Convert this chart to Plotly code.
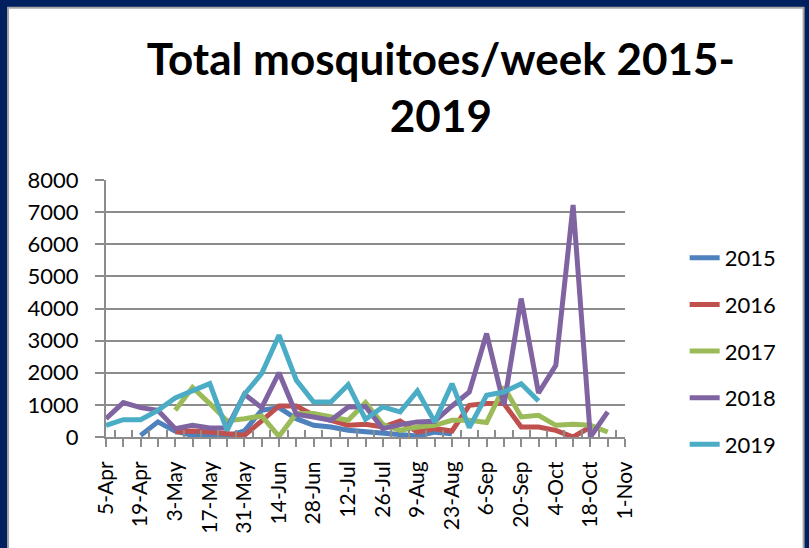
import plotly.graph_objects as go

weeks = ["5-Apr","12-Apr","19-Apr","26-Apr","3-May","10-May","17-May","24-May","31-May",
         "7-Jun","14-Jun","21-Jun","28-Jun","5-Jul","12-Jul","19-Jul","26-Jul","2-Aug",
         "9-Aug","16-Aug","23-Aug","30-Aug","6-Sep","13-Sep","20-Sep","27-Sep","4-Oct",
         "11-Oct","18-Oct","25-Oct","1-Nov"]

y2015 = [None, None, 50, 470, 180, 50, 70, 30, 190, 830, 915, 570, 364, 310, 208, 156,
         100, 80, 30, 150, 100, None, None, None, None, None, None, None, None, None, None]
y2016 = [None, None, None, None, 156, 187, 156, 104, 52, 500, 967, 967, 676, 520, 364, 395,
         310, 500, 156, 260, 187, 987, 1040, 1040, 310, 310, 208, 0, 310, None, None]
y2017 = [None, None, None, None, 830, 1540, 1040, 500, 570, 655, 20, 730, 730, 620, 520, 1070,
         395, 208, 310, 364, 520, 520, 450, 1560, 625, 675, 364, 395, 364, 156, None]
y2018 = [572, 1070, 915, 830, 260, 364, 280, 280, 1330, 915, 2000, 707, 620, 520, 935, 950,
         260, 385, 470, 490, 967, 1400, 3220, 990, 4310, 1370, 2230, 7220, 0, 780, None]
y2019 = [364, 540, 540, 830, 1217, 1425, 1660, 208, 1330, 1976, 3170, 1770, 1090, 1090, 1630, 550,
         935, 780, 1434, 470, 1660, 290, 1300, 1400, 1660, 1120, None, None, None, None, None]

series = [("2015", y2015, "#4F81BD"), ("2016", y2016, "#C0504D"), ("2017", y2017, "#9BBB59"),
          ("2018", y2018, "#8064A2"), ("2019", y2019, "#4BACC6")]

idx = list(range(len(weeks)))
labels = [w if i % 2 == 0 else "" for i, w in enumerate(weeks)]

fig = go.Figure()
for name, ys, col in series:
    fig.add_trace(go.Scatter(x=idx, y=ys, mode="lines", name=name, legendgroup=name,
                             line=dict(color=col, width=5)))

W, H = 809, 548
L, R, T, B = 106, 625.3, 180, 436.7
pw, ph = R - L, B - T
def px(x): return (x - L) / pw
def py(y): return (B - y) / ph

grid = "#8C8C8C"
fig.update_layout(
    width=W, height=H,
    margin=dict(l=L, r=W - R, t=T, b=H - B, autoexpand=False),
    paper_bgcolor="#002060", plot_bgcolor="white",
    font=dict(family="Lato", size=22, color="black"),
    title=dict(text="<b>Total mosquitoes/week 2015-<br>2019</b>", x=0.545, xanchor="center",
               xref="container", yref="container", y=1 - 75 / H, yanchor="top",
               font=dict(family="Lato", size=44, color="black")),
    showlegend=True,
    legend=dict(x=px(685), y=py(237), xanchor="left", yanchor="top", traceorder="grouped",
                tracegroupgap=15, bgcolor="rgba(0,0,0,0)", font=dict(size=22)),
    xaxis=dict(range=[0, 30], tickmode="array", tickvals=idx, ticktext=labels, tickangle=-90,
               ticks="outside", ticklen=8, tickwidth=2, tickcolor=grid, tickfont=dict(size=21),
               showline=True, linecolor=grid, linewidth=2, showgrid=False, zeroline=False,
               ticklabelstandoff=6,
               minor=dict(tickmode="array", tickvals=[i + 0.5 for i in idx[:-1]], ticks="inside",
                          ticklen=7, tickwidth=2, tickcolor=grid, showgrid=False)),
    xaxis2=dict(range=[0, 30], overlaying="x", anchor="y", side="bottom", tickmode="array",
                tickvals=idx, ticks="inside", ticklen=7, tickwidth=2, tickcolor=grid,
                showticklabels=False, showline=False, showgrid=False, zeroline=False),
    yaxis=dict(range=[0, 8000], tickmode="linear", tick0=0, dtick=1000, ticks="outside", ticklen=9,
               tickwidth=2, tickcolor=grid, showline=True, linecolor=grid, linewidth=2,
               showgrid=True, gridcolor=grid, gridwidth=2, zeroline=False, ticklabelstandoff=12),
    shapes=[dict(type="rect", xref="paper", yref="paper", x0=px(8), x1=px(804), y0=py(570), y1=py(8),
                 fillcolor="white", line=dict(color="#A6A6A6", width=2), layer="below")],
)
fig.write_html("out.html", config={"displayModeBar": False},
               post_script="document.body.style.margin='0';")
